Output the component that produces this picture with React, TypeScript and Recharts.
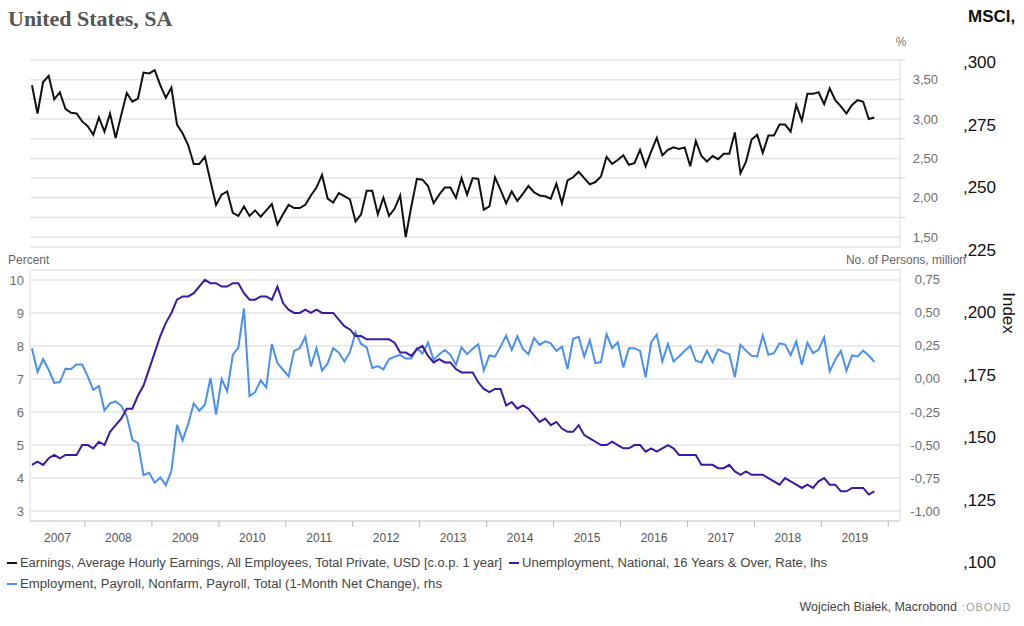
import React from "react";
import { LineChart, Line, XAxis, YAxis, CartesianGrid } from "recharts";

// monthly data, first point = March 2007, last = October 2019
const FIRST_MONTH = 2; // months after Jan 2007

const yearLabels = ["2007", "2008", "2009", "2010", "2011", "2012", "2013", "2014", "2015", "2016", "2017", "2018", "2019"];

// Average hourly earnings, % y/y
const earnings = [
  3.43, 3.07, 3.47, 3.55, 3.25, 3.34, 3.13, 3.08, 3.07, 2.97,
  2.91, 2.8, 3.02, 2.84, 3.07, 2.76, 3.05, 3.33, 3.22, 3.26, 3.59, 3.58,
  3.62, 3.43, 3.27, 3.4, 2.93, 2.82, 2.67, 2.43, 2.43, 2.52, 2.21, 1.91,
  2.04, 2.08, 1.81, 1.77, 1.89, 1.77, 1.84, 1.76, 1.84, 1.92, 1.66, 1.79,
  1.91, 1.87, 1.87, 1.91, 2.03, 2.13, 2.29, 1.99, 1.94, 2.06, 2.02, 1.98,
  1.7, 1.79, 2.09, 2.09, 1.79, 2.0, 1.77, 1.86, 2.03, 1.5, 1.89, 2.24,
  2.23, 2.15, 1.93, 2.04, 2.13, 2.13, 2.0, 2.25, 2.04, 2.25, 2.24, 1.85,
  1.89, 2.26, 2.1, 1.93, 2.08, 1.96, 2.05, 2.15, 2.07, 2.03, 2.02, 1.99,
  2.18, 1.93, 2.22, 2.26, 2.33, 2.25, 2.17, 2.2, 2.27, 2.52, 2.43, 2.48,
  2.54, 2.42, 2.44, 2.61, 2.4, 2.59, 2.76, 2.54, 2.61, 2.64, 2.62, 2.64,
  2.4, 2.72, 2.53, 2.46, 2.53, 2.49, 2.56, 2.56, 2.83, 2.31, 2.46, 2.74,
  2.8, 2.57, 2.79, 2.79, 2.93, 2.93, 2.84, 3.18, 2.98, 3.32, 3.32, 3.34,
  3.19, 3.39, 3.24, 3.16, 3.07, 3.18, 3.24, 3.22, 3.0, 3.02,
];

// Unemployment rate, % (lhs)
const unemployment = [
  4.4, 4.5, 4.4, 4.6, 4.7, 4.6, 4.7, 4.7, 4.7, 5.0,
  5.0, 4.9, 5.1, 5.0, 5.4, 5.6, 5.8, 6.1, 6.1, 6.5, 6.8, 7.3,
  7.8, 8.3, 8.7, 9.0, 9.4, 9.5, 9.5, 9.6, 9.8, 10.0, 9.9, 9.9,
  9.8, 9.8, 9.9, 9.9, 9.6, 9.4, 9.4, 9.5, 9.5, 9.4, 9.8, 9.3,
  9.1, 9.0, 9.0, 9.1, 9.0, 9.1, 9.0, 9.0, 9.0, 8.8, 8.6, 8.5,
  8.3, 8.3, 8.2, 8.2, 8.2, 8.2, 8.2, 8.1, 7.8, 7.8, 7.7, 7.9,
  8.0, 7.7, 7.5, 7.6, 7.5, 7.5, 7.3, 7.2, 7.2, 7.2, 6.9, 6.7,
  6.6, 6.7, 6.7, 6.2, 6.3, 6.1, 6.2, 6.1, 5.9, 5.7, 5.8, 5.6,
  5.7, 5.5, 5.4, 5.4, 5.6, 5.3, 5.2, 5.1, 5.0, 5.0, 5.1, 5.0,
  4.9, 4.9, 5.0, 5.0, 4.8, 4.9, 4.8, 4.9, 5.0, 4.9, 4.7, 4.7,
  4.7, 4.7, 4.4, 4.4, 4.4, 4.3, 4.3, 4.4, 4.2, 4.1, 4.2, 4.1,
  4.1, 4.1, 4.0, 3.9, 3.8, 4.0, 3.9, 3.8, 3.7, 3.8, 3.7, 3.9,
  4.0, 3.8, 3.8, 3.6, 3.6, 3.7, 3.7, 3.7, 3.5, 3.6,
];

// Nonfarm payrolls, 1-month net change, million (rhs)
const payrolls = [
  0.233, 0.053, 0.15, 0.07, -0.03, -0.023, 0.078, 0.075, 0.11, 0.11,
  0.02, -0.083, -0.053, -0.238, -0.185, -0.17, -0.203, -0.283, -0.46, -0.485, -0.728, -0.71,
  -0.785, -0.745, -0.803, -0.695, -0.348, -0.465, -0.34, -0.185, -0.24, -0.195, 0.008, -0.27,
  0.0, -0.093, 0.183, 0.238, 0.535, -0.13, -0.1, -0.01, -0.065, 0.265, 0.12, 0.07,
  0.02, 0.213, 0.233, 0.32, 0.095, 0.233, 0.063, 0.118, 0.233, 0.2, 0.133, 0.203,
  0.353, 0.265, 0.24, 0.083, 0.098, 0.073, 0.15, 0.168, 0.183, 0.155, 0.155, 0.233,
  0.193, 0.275, 0.145, 0.188, 0.22, 0.183, 0.108, 0.24, 0.188, 0.228, 0.263, 0.065,
  0.178, 0.17, 0.245, 0.328, 0.22, 0.323, 0.228, 0.188, 0.31, 0.258, 0.285, 0.27,
  0.213, 0.245, 0.075, 0.305, 0.32, 0.17, 0.293, 0.12, 0.128, 0.34, 0.233, 0.278,
  0.088, 0.233, 0.233, 0.213, 0.013, 0.278, 0.335, 0.133, 0.265, 0.133, 0.17, 0.213,
  0.25, 0.138, 0.125, 0.213, 0.128, 0.225, 0.203, 0.188, 0.015, 0.258, 0.215, 0.175,
  0.17, 0.33, 0.183, 0.195, 0.27, 0.26, 0.18, 0.283, 0.108, 0.275, 0.195, 0.22,
  0.315, 0.058, 0.145, 0.213, 0.063, 0.178, 0.17, 0.215, 0.178, 0.13,
];

const earningsTicks = [1.5, 1.75, 2, 2.25, 2.5, 2.75, 3, 3.25, 3.5, 3.75];
const percentTicks = [3, 4, 5, 6, 7, 8, 9, 10];
const personsTicks = [-1, -0.75, -0.5, -0.25, 0, 0.25, 0.5, 0.75];
const msciTicks = [100, 125, 150, 175, 200, 225, 250, 275, 300];

const data = earnings.map((e, i) => ({
  t: FIRST_MONTH + i + 0.5, // plotted mid-month
  earnings: e,
  unemployment: unemployment[i],
  payrolls: payrolls[i],
}));

const X_MIN = 2.15;
const X_MAX = 158.1;
const PLOT_W = 870;
const PX_PER_MONTH = PLOT_W / (X_MAX - X_MIN);
const yearBounds = yearLabels.map((_, i) => (i + 1) * 12);

const FONT = "'Liberation Sans', Arial, sans-serif";
const NARROW = "'Liberation Sans Narrow', 'Liberation Sans', Arial, sans-serif";
const TICK_GREY = "#6e6e6e";
const GRID = "#e4e4e4";

const fmt2 = (v: number) => v.toFixed(2).replace(".", ",");

const TopTick = (props: any) => {
  const { x, y, payload } = props;
  const v = payload.value;
  if (Math.abs(v * 2 - Math.round(v * 2)) > 1e-6) {
    return <line x1={x} y1={y} x2={x + 5} y2={y} stroke="#d0d0d0" />;
  }
  return (
    <text x={938} y={y} dy={4.5} textAnchor="end" fill={TICK_GREY} fontSize={13} fontFamily={FONT}>
      {fmt2(v)}
    </text>
  );
};

const PersonsTick = (props: any) => {
  const { y, payload } = props;
  return (
    <text x={940} y={y} dy={4.5} textAnchor="end" fill={TICK_GREY} fontSize={13} fontFamily={FONT}>
      {fmt2(payload.value)}
    </text>
  );
};

const YearTick = (props: any) => {
  const { x, y, payload } = props;
  const v = payload.value;
  const from = Math.max(v - 12, X_MIN);
  const lx = x - ((v - from) / 2) * PX_PER_MONTH;
  return (
    <g>
      <line x1={x} y1={y} x2={x} y2={y + 6} stroke="#b8b8b8" />
      <text x={lx} y={y + 21} textAnchor="middle" fill="#555" fontSize={12} fontFamily={NARROW}>
        {yearLabels[v / 12 - 1]}
      </text>
    </g>
  );
};

const MsciTick = (props: any) => {
  const { y, payload } = props;
  return (
    <text x={96} y={y} dy={6} textAnchor="end" fill="#111" fontSize={17} fontFamily={FONT}>
      {"," + payload.value}
    </text>
  );
};

const legendRows = [
  { color: "#111", label: "Earnings, Average Hourly Earnings, All Employees, Total Private, USD [c.o.p. 1 year]", x: 7, y: 567, w: 482 },
  { color: "#3b1aa6", label: "Unemployment, National, 16 Years & Over, Rate, lhs", x: 509, y: 567, w: 305 },
  { color: "#4a90f2", label: "Employment, Payroll, Nonfarm, Payroll, Total (1-Month Net Change), rhs", x: 7, y: 588, w: 422 },
];

export default function App() {
  return (
    <div style={{ position: "absolute", left: 0, top: 0, width: 1024, height: 626, background: "#fff", overflow: "hidden" }}>
      {/* upper panel: earnings */}
      <div style={{ position: "absolute", left: 0, top: 0 }}>
        <LineChart width={1024} height={260} data={data} margin={{ top: 60, right: 54, left: 30, bottom: 13 }}>
          <CartesianGrid yAxisId="e" vertical={false} stroke={GRID} strokeWidth={1.5} />
          <XAxis dataKey="t" type="number" domain={[X_MIN, X_MAX]} allowDataOverflow hide />
          <YAxis
            yAxisId="e"
            orientation="right"
            width={70}
            domain={[1.375, 3.75]}
            ticks={earningsTicks}
            interval={0}
            tickSize={0}
            tickMargin={0}
            tickLine={false}
            axisLine={{ stroke: "#dcdcdc" }}
            tick={TopTick}
          />
          <Line yAxisId="e" dataKey="earnings" stroke="#111" strokeWidth={2} dot={false} isAnimationActive={false} />
        </LineChart>
      </div>

      {/* lower panel: unemployment + payrolls */}
      <div style={{ position: "absolute", left: 0, top: 250 }}>
        <LineChart width={1024} height={300} data={data} margin={{ top: 20, right: 54, left: 0, bottom: 10 }}>
          <CartesianGrid yAxisId="l" vertical={false} stroke={GRID} strokeWidth={1.5} />
          <XAxis
            dataKey="t"
            type="number"
            domain={[X_MIN, X_MAX]}
            allowDataOverflow
            ticks={yearBounds}
            interval={0}
            height={19}
            tickSize={0}
            tickMargin={0}
            tickLine={false}
            axisLine={{ stroke: "#d0d0d0" }}
            tick={YearTick}
          />
          <YAxis
            yAxisId="l"
            width={30}
            domain={[2.7, 10.3]}
            ticks={percentTicks}
            interval={0}
            tickSize={0}
            tickMargin={6}
            tickLine={false}
            axisLine={{ stroke: "#dcdcdc" }}
            tick={{ fill: TICK_GREY, fontSize: 13, fontFamily: FONT }}
          />
          <YAxis
            yAxisId="r"
            orientation="right"
            width={70}
            domain={[-1.075, 0.825]}
            ticks={personsTicks}
            interval={0}
            tickSize={0}
            tickMargin={0}
            tickLine={false}
            axisLine={{ stroke: "#dcdcdc" }}
            tick={PersonsTick}
          />
          <Line yAxisId="r" dataKey="payrolls" stroke="#4a90f2" strokeWidth={2} dot={false} isAnimationActive={false} />
          <Line yAxisId="l" dataKey="unemployment" stroke="#3b1aa6" strokeWidth={2} dot={false} isAnimationActive={false} />
        </LineChart>
      </div>

      {/* MSCI index scale on the far right (no series shown in this view) */}
      <div style={{ position: "absolute", left: 900, top: 0 }}>
        <LineChart width={124} height={626} data={data} margin={{ top: 62, right: 0, left: 0, bottom: 64 }}>
          <XAxis dataKey="t" type="number" domain={[X_MIN, X_MAX]} hide />
          <YAxis
            yAxisId="m"
            orientation="right"
            width={100}
            type="number"
            domain={[100, 300]}
            allowDataOverflow
            ticks={msciTicks}
            interval={0}
            tickLine={false}
            axisLine={false}
            tick={MsciTick}
          />
          <Line yAxisId="m" dataKey="msci" stroke="none" dot={false} legendType="none" isAnimationActive={false} />
        </LineChart>
      </div>

      {/* texts */}
      <svg width={1024} height={626} style={{ position: "absolute", left: 0, top: 0, pointerEvents: "none" }}>
        <text x={8} y={26} fontFamily="'Liberation Serif', 'DejaVu Serif', serif" fontWeight="bold" fontSize={22} fill="#555">
          United States, SA
        </text>
        <text x={968} y={22} fontFamily={FONT} fontWeight="bold" fontSize={17} fill="#111">
          MSCI,
        </text>
        <text x={901} y={46} textAnchor="middle" fontFamily={FONT} fontSize={12} fill="#777">
          %
        </text>
        <text x={8} y={264} fontFamily={FONT} fontSize={12} fill="#666">
          Percent
        </text>
        <text x={966} y={264} textAnchor="end" fontFamily={FONT} fontSize={12} fill="#666">
          No. of Persons, million
        </text>
        <text x={1003} y={313} transform="rotate(90 1003 313)" textAnchor="middle" fontFamily={FONT} fontSize={17} fill="#111">
          Index
        </text>
        {legendRows.map((r) => (
          <g key={r.label}>
            <line x1={r.x} y1={r.y - 4} x2={r.x + 10} y2={r.y - 4} stroke={r.color} strokeWidth={2} />
            <text x={r.x + 13} y={r.y} textLength={r.w} lengthAdjust="spacingAndGlyphs" fontFamily={NARROW} fontSize={12.5} fill="#444">
              {r.label}
            </text>
          </g>
        ))}
        <text x={957} y={611} textAnchor="end" fontFamily={NARROW} fontSize={12.5} fill="#444">
          Wojciech Białek, Macrobond
        </text>
        <text x={962} y={611} fontFamily={FONT} fontSize={11} fill="#a0a0a0" letterSpacing={1}>
          :OBOND
        </text>
      </svg>
    </div>
  );
}
